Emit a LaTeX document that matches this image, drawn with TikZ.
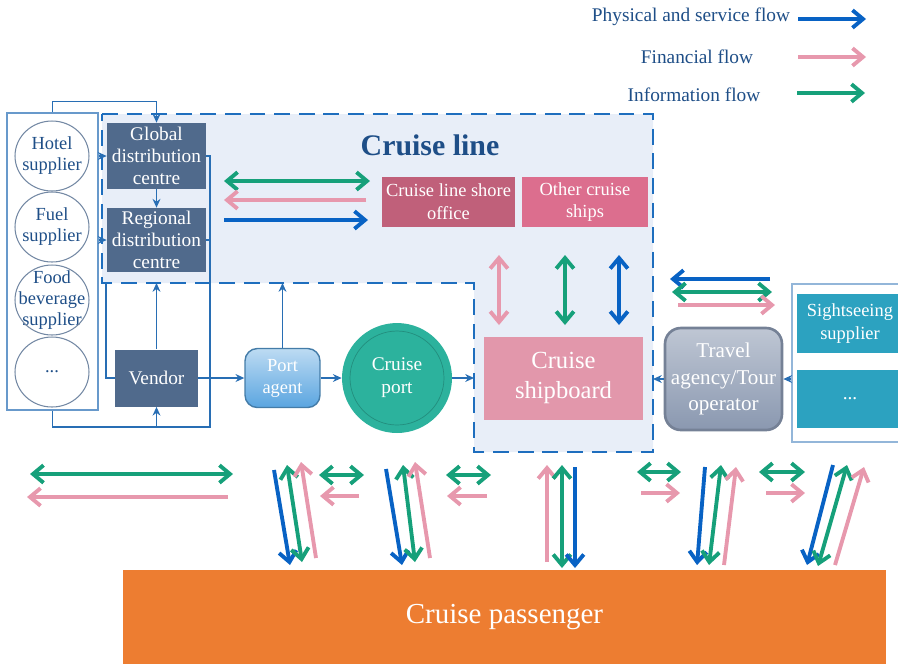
\documentclass[tikz,border=0pt]{standalone}
\usepackage{fontspec}
\setmainfont{Liberation Serif}
\usetikzlibrary{arrows.meta}
\usetikzlibrary{positioning}

\definecolor{physblue}{RGB}{8,98,196}
\definecolor{finpink}{RGB}{231,152,173}
\definecolor{infogreen}{RGB}{22,160,122}
\definecolor{linkblue}{RGB}{40,110,180}
\definecolor{textblue}{RGB}{30,78,135}
\definecolor{lineregion}{RGB}{232,238,248}
\definecolor{dashblue}{RGB}{30,110,190}
\definecolor{slate}{RGB}{80,106,140}
\definecolor{shorered}{RGB}{192,96,122}
\definecolor{shippink}{RGB}{220,110,142}
\definecolor{boardpink}{RGB}{226,151,171}
\definecolor{portteal}{RGB}{44,178,157}
\definecolor{sightteal}{RGB}{44,162,192}
\definecolor{travelgray}{RGB}{138,152,176}
\definecolor{passorange}{RGB}{237,125,49}
\definecolor{agentblue}{RGB}{90,165,224}

\begin{document}
\begin{tikzpicture}[x=0.02cm,y=-0.02cm,
	flow/.style={line width=2.2pt,-{Straight Barb[length=6pt,width=10pt]}},
	biflow/.style={line width=2.2pt,{Straight Barb[length=6pt,width=10pt]}-{Straight Barb[length=6pt,width=10pt]}},
	link/.style={linkblue,line width=0.7pt},
	linkarrow/.style={link,-{Stealth[length=5pt,width=4.5pt]}},
	darkbox/.style={fill=slate,text=white,align=center,inner sep=0pt,font=\fontsize{11}{12.5}\selectfont},
	supplier/.style={inner sep=0pt,align=center,text=textblue,font=\fontsize{10.5}{12}\selectfont},
	ring/.style={draw=slate!80,line width=0.6pt},
	whitetext/.style={text=white,align=center,inner sep=0pt},
	]
	\useasboundingbox (0,0) rectangle (898,664);

	% legend
	\node[text=textblue,font=\fontsize{11}{13}\selectfont] (physlab) at (691,17) {Physical and service flow};
	\node[text=textblue,font=\fontsize{11}{13}\selectfont] (finlab) at (697,57) {Financial flow};
	\node[text=textblue,font=\fontsize{11}{13}\selectfont] (infolab) at (694,95) {Information flow};
	\draw[flow,physblue] (798,19) -- (866,19);
	\draw[flow,finpink] (798,57) -- (866,57);
	\draw[flow,infogreen] (797,93) -- (865,93);

	% cruise line region
	\coordinate (clNW) at (102,114);
	\coordinate (clNE) at (653,114);
	\coordinate (clSE) at (653,452);
	\coordinate (clS) at (474,452);
	\coordinate (clIn) at (474,283);
	\coordinate (clSW) at (102,283);
	\draw[fill=lineregion,draw=dashblue,line width=1.4pt,dash pattern=on 9pt off 5pt]
		(clNW) -- (clNE) -- (clSE) -- (clS) -- (clIn) -- (clSW) -- cycle;
	\node[text=textblue,font=\bfseries\fontsize{17}{20}\selectfont] (cltitle) at (430,145) {Cruise line};

	% suppliers
	\node[draw=linkblue!70,line width=0.8pt,minimum width=1.82cm,minimum height=5.94cm] (suppliers) at (52.5,261.5) {};
	\node[supplier] (hotel) at (52,156) {Hotel\\supplier};
	\node[supplier] (fuel) at (52,227) {Fuel\\supplier};
	\node[supplier] (food) at (52,300) {Food\\beverage\\supplier};
	\node[supplier] (others) at (52,372) {...};
	\draw[ring] (hotel.center) ellipse (0.74cm and 0.7cm);
	\draw[ring] (fuel.center) ellipse (0.74cm and 0.7cm);
	\draw[ring] (food.center) ellipse (0.74cm and 0.7cm);
	\draw[ring] (others.center) ellipse (0.74cm and 0.7cm);

	% distribution and vendor
	\node[darkbox,minimum width=1.98cm,minimum height=1.32cm] (global) at (156.5,156) {Global\\distribution\\centre};
	\node[darkbox,minimum width=1.98cm,minimum height=1.28cm] (regional) at (156.5,240) {Regional\\distribution\\centre};
	\node[darkbox,minimum width=1.66cm,minimum height=1.14cm] (vendor) at (156.5,378) {Vendor};

	% cruise line units
	\node[whitetext,fill=shorered,minimum width=2.66cm,minimum height=1cm,font=\fontsize{10.5}{13}\selectfont] (shore) at (448.5,202) {Cruise line shore\\office};
	\node[whitetext,fill=shippink,minimum width=2.52cm,minimum height=1cm,font=\fontsize{10.5}{13}\selectfont] (ships) at (585,202) {Other cruise\\ships};
	\node[whitetext,fill=boardpink,minimum width=3.18cm,minimum height=1.66cm,font=\fontsize{14}{17}\selectfont] (shipboard) at (563.5,378) {Cruise\\shipboard};

	% port side
	\node[whitetext,draw=agentblue!75!black,line width=0.8pt,top color=agentblue!40!white,bottom color=agentblue,rounded corners=7pt,minimum width=1.5cm,minimum height=1.18cm,font=\fontsize{10.5}{12.5}\selectfont] (agent) at (282.5,378) {Port\\agent};
	\node[whitetext,circle,fill=portteal,minimum size=2.2cm,font=\fontsize{11}{13}\selectfont] (port) at (397,378) {Cruise\\port};
	\draw[portteal!80!black,line width=0.4pt] (port.center) circle (0.94cm);

	% tour side
	\node[whitetext,draw=travelgray!85!black,line width=1.5pt,rounded corners=9pt,top color=travelgray!55!white,bottom color=travelgray,minimum width=2.34cm,minimum height=2.04cm,font=\fontsize{12}{15}\selectfont] (travel) at (723.5,379) {Travel\\agency/Tour\\operator};
	\node[draw=linkblue!50,line width=0.8pt,minimum width=2.2cm,minimum height=3.16cm] (sightgroup) at (847,363) {};
	\node[whitetext,fill=sightteal,minimum width=2.12cm,minimum height=1.18cm,font=\fontsize{10.5}{13}\selectfont] (sight) at (850,323.5) {Sightseeing\\supplier};
	\node[whitetext,fill=sightteal,minimum width=2.12cm,minimum height=1.16cm,font=\fontsize{11}{13}\selectfont] (moresight) at (850,399) {...};

	% passenger
	\node[whitetext,fill=passorange,minimum width=15.26cm,minimum height=1.88cm,font=\fontsize{16.5}{20}\selectfont] (passenger) at (504.5,617) {Cruise passenger};

	% thin connectors
	\coordinate (loopR) at (210,427);
	\coordinate (vendorup) at (106,283);
	\draw[linkarrow] (suppliers.north) -- ++(0,-11) -| (global.north);
	\draw[linkarrow] (global) -- (regional);
	\draw[linkarrow] (suppliers.east |- hotel) -- (global.west |- hotel);
	\draw[linkarrow] (suppliers.east |- regional) -- (regional.west);
	\draw[link] (global.east) -- (global.east -| loopR) -- (loopR) -| (suppliers.south);
	\draw[link] (regional.east) -- (regional.east -| loopR);
	\draw[linkarrow] (vendor.south |- loopR) -- (vendor.south);
	\draw[link] (vendor.west) -| (vendorup);
	\draw[linkarrow] (vendor.north) -- (vendor.north |- clSW);
	\draw[linkarrow] (vendor) -- (agent);
	\draw[linkarrow] (agent.north) -- (agent.north |- clSW);
	\draw[linkarrow] (agent) -- (port);
	\draw[linkarrow] (port.east) -- (port.east -| clS);
	\draw[linkarrow] (travel.west) -- (travel.west -| clSE);
	\draw[linkarrow] (sightgroup.west |- travel) -- (travel.east);

	% flows inside cruise line
	\draw[biflow,infogreen] (224,181) -- (370,181);
	\draw[flow,finpink] (366,200) -- (224,200);
	\draw[flow,physblue] (224,220) -- (368,220);
	\draw[biflow,finpink] (499,255) -- (499,325);
	\draw[biflow,infogreen] (565,255) -- (565,325);
	\draw[biflow,physblue] (619,255) -- (619,325);

	% flows at the travel agency
	\draw[flow,physblue] (770,279) -- (670,279);
	\draw[biflow,infogreen] (672,292) -- (772,292);
	\draw[flow,finpink] (678,305) -- (775,305);

	% flows to the passenger
	\draw[biflow,infogreen] (30,474) -- (233,474);
	\draw[flow,finpink] (228,497) -- (27,497);
	\draw[flow,physblue] (274,470) -- (290,565);
	\draw[biflow,infogreen] (287,465) -- (302,562);
	\draw[flow,finpink] (316,558) -- (301,462);
	\draw[biflow,infogreen] (319,475) -- (364,475);
	\draw[flow,finpink] (359,496) -- (320,496);
	\draw[flow,physblue] (386,469) -- (402,565);
	\draw[biflow,infogreen] (403,465) -- (415,562);
	\draw[flow,finpink] (430,558) -- (415,462);
	\draw[biflow,infogreen] (446,475) -- (491,475);
	\draw[flow,finpink] (487,496) -- (447,496);
	\draw[flow,finpink] (547,562) -- (547,465);
	\draw[biflow,infogreen] (562,465) -- (562,568);
	\draw[flow,physblue] (575,467) -- (575,568);
	\draw[biflow,infogreen] (637,472) -- (681,472);
	\draw[flow,finpink] (641,493) -- (680,493);
	\draw[flow,physblue] (705,467) -- (697,565);
	\draw[biflow,infogreen] (721,465) -- (709,565);
	\draw[flow,finpink] (724,565) -- (736,467);
	\draw[biflow,infogreen] (759,472) -- (805,472);
	\draw[flow,finpink] (766,493) -- (805,493);
	\draw[flow,physblue] (833,465) -- (807,565);
	\draw[biflow,infogreen] (847,465) -- (818,566);
	\draw[flow,finpink] (835,565) -- (864,467);
\end{tikzpicture}
\end{document}
